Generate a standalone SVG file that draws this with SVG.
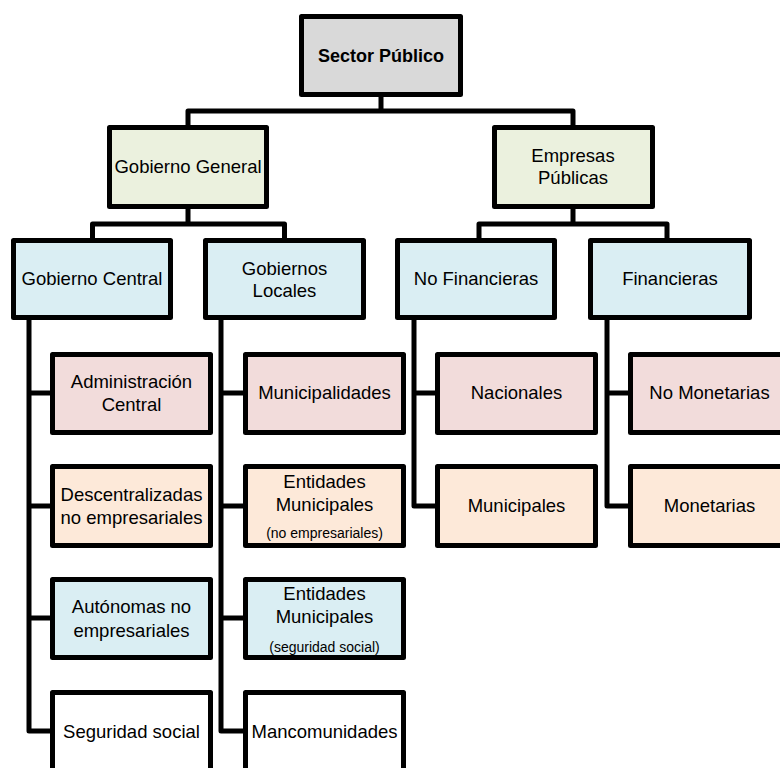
<svg xmlns="http://www.w3.org/2000/svg" width="780" height="768" viewBox="0 0 780 768">
<style>
.b{stroke:#000;stroke-width:5;stroke-linejoin:round}
.c{fill:none;stroke:#000;stroke-width:5;stroke-linejoin:round}
text{font-family:"Liberation Sans",Arial,sans-serif;font-size:18.5px;fill:#000;text-anchor:middle}
.bold{font-weight:bold;font-size:18px}
.s{font-size:14px}
.gray{fill:#d9d9d9}.olive{fill:#ebf1de}.blue{fill:#daeef3}.pink{fill:#f2dcdb}.peach{fill:#fde9d9}.white{fill:#fff}
</style>
<rect width="780" height="768" fill="#fff"/>
<g id="connectors">
<path class="c" d="M381 97V111M188 125V111H573V125"/>
<path class="c" d="M188 209V224M92.5 238V224H284.5V238"/>
<path class="c" d="M573 209V224M479 238V224H667V238"/>
<path class="c" d="M29 320V731H50M29 393H50M29 506H50M29 618H50"/>
<path class="c" d="M221 320V731H243M221 393H243M221 506H243M221 618H243"/>
<path class="c" d="M414 320V506H435M414 393H435"/>
<path class="c" d="M607 320V506H628M607 393H628"/>
</g>
<g id="sector"><rect class="b gray" x="301.5" y="16.5" width="159" height="78"/><text class="bold" x="381" y="62">Sector Público</text></g>
<g id="gobierno-general"><rect class="b olive" x="109.5" y="127.5" width="157" height="79"/><text x="188" y="173">Gobierno General</text></g>
<g id="empresas"><rect class="b olive" x="494.5" y="127.5" width="158" height="79"/><text x="573" y="162">Empresas</text><text x="573" y="184">Públicas</text></g>
<g id="gobierno-central"><rect class="b blue" x="13.5" y="240.5" width="157" height="77"/><text x="92" y="285">Gobierno Central</text></g>
<g id="gobiernos-locales"><rect class="b blue" x="205.5" y="240.5" width="158" height="77"/><text x="284.5" y="275">Gobiernos</text><text x="284.5" y="297">Locales</text></g>
<g id="no-financieras"><rect class="b blue" x="397.5" y="240.5" width="157" height="77"/><text x="476" y="285">No Financieras</text></g>
<g id="financieras"><rect class="b blue" x="590.5" y="240.5" width="159" height="77"/><text x="670" y="285">Financieras</text></g>
<g id="admin-central"><rect class="b pink" x="52.5" y="354.5" width="158" height="78"/><text x="131.5" y="388">Administración</text><text x="131.5" y="411">Central</text></g>
<g id="descentralizadas"><rect class="b peach" x="52.5" y="466.5" width="158" height="79"/><text x="131.5" y="501">Descentralizadas</text><text x="131.5" y="524">no empresariales</text></g>
<g id="autonomas"><rect class="b blue" x="52.5" y="579.5" width="158" height="78"/><text x="131.5" y="613">Autónomas no</text><text x="131.5" y="637">empresariales</text></g>
<g id="seguridad-social"><rect class="b white" x="52.5" y="692.5" width="158" height="90"/><text x="131.5" y="738">Seguridad social</text></g>
<g id="municipalidades"><rect class="b pink" x="245.5" y="354.5" width="158" height="78"/><text x="324.5" y="399">Municipalidades</text></g>
<g id="entidades-no-emp"><rect class="b peach" x="245.5" y="466.5" width="158" height="79"/><text x="324.5" y="488">Entidades</text><text x="324.5" y="511">Municipales</text><text class="s" x="324.5" y="538">(no empresariales)</text></g>
<g id="entidades-seg"><rect class="b blue" x="245.5" y="579.5" width="158" height="78"/><text x="324.5" y="600">Entidades</text><text x="324.5" y="623">Municipales</text><text class="s" x="324.5" y="652">(seguridad social)</text></g>
<g id="mancomunidades"><rect class="b white" x="245.5" y="692.5" width="158" height="90"/><text x="324.5" y="738">Mancomunidades</text></g>
<g id="nacionales"><rect class="b pink" x="437.5" y="354.5" width="158" height="78"/><text x="516.5" y="399">Nacionales</text></g>
<g id="municipales"><rect class="b peach" x="437.5" y="466.5" width="158" height="79"/><text x="516.5" y="512">Municipales</text></g>
<g id="no-monetarias"><rect class="b pink" x="630.5" y="354.5" width="158" height="78"/><text x="709.5" y="399">No Monetarias</text></g>
<g id="monetarias"><rect class="b peach" x="630.5" y="466.5" width="158" height="79"/><text x="709.5" y="512">Monetarias</text></g>
</svg>
